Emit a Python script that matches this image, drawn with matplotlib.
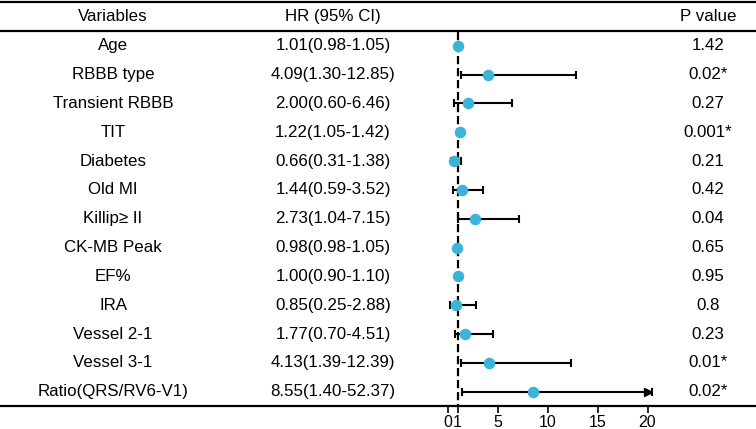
import matplotlib
matplotlib.use("Agg")
import matplotlib.pyplot as plt
import numpy as np

plt.rcParams['font.family'] = ['Liberation Sans', 'DejaVu Sans']

variables = ["Age", "RBBB type", "Transient RBBB", "TIT", "Diabetes", "Old MI",
             "Killip\u2265 II", "CK-MB Peak", "EF%", "IRA", "Vessel 2-1",
             "Vessel 3-1", "Ratio(QRS/RV6-V1)"]
hr = [1.01, 4.09, 2.00, 1.22, 0.66, 1.44, 2.73, 0.98, 1.00, 0.85, 1.77, 4.13, 8.55]
lo = [0.98, 1.30, 0.60, 1.05, 0.31, 0.59, 1.04, 0.98, 0.90, 0.25, 0.70, 1.39, 1.40]
hi = [1.05, 12.85, 6.46, 1.42, 1.38, 3.52, 7.15, 1.05, 1.10, 2.88, 4.51, 12.39, 52.37]
pvals = ["1.42", "0.02*", "0.27", "0.001*", "0.21", "0.42", "0.04", "0.65",
         "0.95", "0.8", "0.23", "0.01*", "0.02*"]
xticks = [0, 1, 5, 10, 15, 20]
headers = ["Variables", "HR (95% CI)", "P value"]

axis_max = 20.4
ref_line = 1

fig = plt.figure(figsize=(7.56, 4.29), dpi=100)
ax = fig.add_axes([0, 0, 1, 1])
ax.set_xlim(-44.75, 30.85)
ax.set_ylim(13.295, -1.585)

n = len(variables)
y = np.arange(n)
hr_a = np.array(hr)
lo_a = np.array(lo)
hi_a = np.array(hi)
hi_clip = np.minimum(hi_a, axis_max)

col_var = -33.45
col_hr = -11.45
col_p = 26.05
fs = 12.2

ax.text(col_var, -1.0, headers[0], ha='center', va='center', fontsize=fs)
ax.text(col_hr, -1.0, headers[1], ha='center', va='center', fontsize=fs)
ax.text(col_p, -1.0, headers[2], ha='center', va='center', fontsize=fs)

for i in range(n):
    ax.text(col_var, y[i], variables[i], ha='center', va='center', fontsize=fs)
    ax.text(col_hr, y[i], f"{hr[i]:.2f}({lo[i]:.2f}-{hi[i]:.2f})",
            ha='center', va='center', fontsize=fs)
    ax.text(col_p, y[i], pvals[i], ha='center', va='center', fontsize=fs)

# header lines
ax.axhline(-1.52, color='black', lw=1.6)
ax.axhline(-0.51, color='black', lw=1.6)

# reference dashed line
axis_y = 12.487
ax.plot([ref_line, ref_line], [-0.48, axis_y], color='black', lw=1.6,
        dashes=(3.7, 1.7), zorder=2)

# error bars
ax.errorbar(hr_a, y, xerr=[hr_a - lo_a, hi_clip - hr_a], fmt='none',
            ecolor='black', elinewidth=1.5, capsize=2.6, capthick=1.5, zorder=3)
clipped = hi_a > axis_max
ax.plot(hi_clip[clipped] - 0.35, y[clipped], linestyle='none', marker='>',
        markersize=6, color='black', zorder=3)

ax.plot(hr_a, y, linestyle='none', marker='o', markersize=8.3,
        color='#3CB4DA', markeredgewidth=0, zorder=4)

# bottom axis
for s in ['top', 'right', 'left']:
    ax.spines[s].set_visible(False)
ax.spines['bottom'].set_position(('data', axis_y))
ax.spines['bottom'].set_linewidth(1.6)
ax.set_xticks(xticks)
ax.set_xticklabels([str(t) for t in xticks], fontsize=11.5)
ax.tick_params(axis='x', direction='out', length=5, width=1.2, pad=2)
ax.set_yticks([])

fig.savefig("out.png", dpi=100)
